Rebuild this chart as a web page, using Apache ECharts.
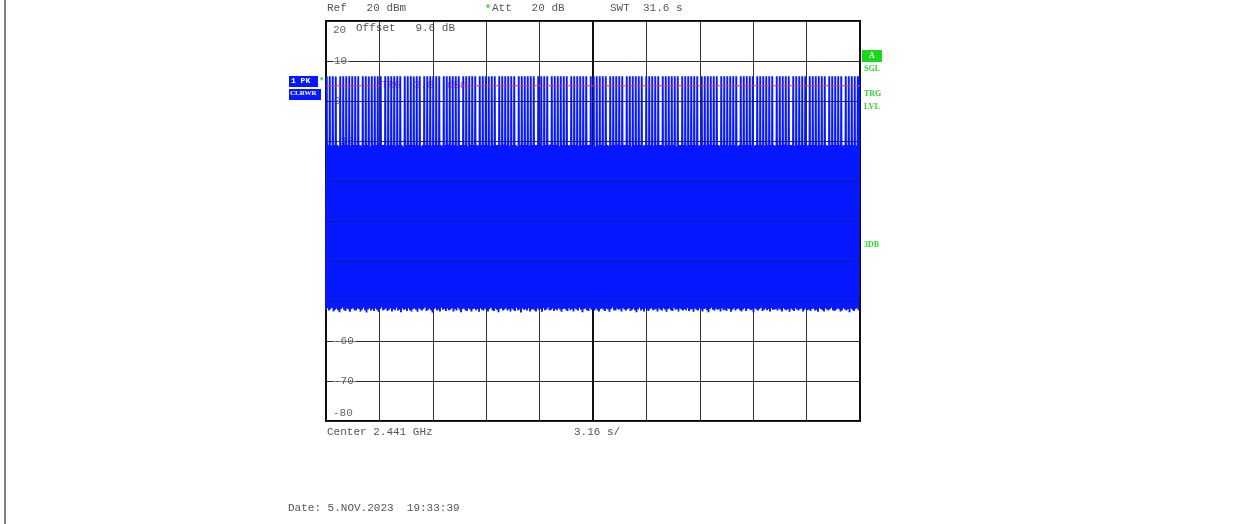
<!DOCTYPE html>
<html>
<head>
<meta charset="utf-8">
<script src="https://cdn.jsdelivr.net/npm/echarts@6/dist/echarts.min.js"></script>
<style>
  html, body { margin: 0; padding: 0; background: #fff; }
  #chart { width: 1253px; height: 524px; }
</style>
</head>
<body>
<div id="chart"></div>
<script>
// zero-span trace: sweep 31.6 s, 3.16 s/div
const sweepTime = 31.6;
const timeDiv = 3.16;
const yTicks = [20, 10, 0, -10, -20, -30, -40, -50, -60, -70, -80];
const triggerLevel = 3.8;

// burst tops (dBm), one per slot, left to right
const topLevels = [
  6.2,-11,6.2,-11.2,6.2,-11,6.1,-11,-11.3,6.2,-11,6.2,-10.9,6.2,-11,6.2,-11.1,6.2,-11,6.2,
  -11,6.2,-11,-11.2,6.2,-11,6.2,-11,6.1,-11.3,6.2,-11,6.2,-11,6.2,-10.8,6.2,-11,-11,6.2,
  -11.1,6.2,-11,6.2,-11,6.2,-11.2,6.2,-11,6.2,-11,-11.4,6.2,-11,6.2,-11,6.2,-11,6.1,-11,
  6.2,-11,6.2,-11.3,-11,6.2,-11,6.2,-11,6.2,-11.1,6.2,-11,6.2,-11,6.2,-11,-11.2,6.2,-11,
  6.2,-10.9,6.2,-11,6.2,-11,6.2,-11.2,6.2,-11,-11,6.2,-11,6.2,-11.3,6.2,-11,6.2,-11,6.2,
  -11,-11.1,6.2,-11,6.2,-11,6.2,-11,6.1,-11.2,6.2,-11,6.2,-11,-11,6.2,-11,6.2,-10.9,6.2,
  -11,6.2,-11.2,6.2,-11,6.2,-11,-11.3,6.2,-11,6.2,-11,6.2,-11,6.2,-11.1,6.2,-11,6.2,-11,
  -11,6.2,-11,6.2,-11.2,6.2,-11,6.2,-11,-10.9,6.2,-11,6.2,-11,6.2,-11.3,6.2,-11,6.2,-11,
  6.2,-11,-11.1,6.2,-11,6.2,-11,6.2,-11.2,6.2,-11,6.2,-11,6.2,-11,-11,6.2,-11,6.2,-11.4,
  6.2,-11,6.2,-11,6.2,-11.1,6.2,-11,-11.2,6.2,-11,6.2,-11,6.2,-10.9,6.2,-11,6.2,-11,-11,
  6.2,-11,6.2,-11.3,6.2,-11,6.2,-11,6.2,-11,6.2,-11.2,-11,6.2,-11,6.2,-11,6.2,-11.1,6.2,
  -11,6.2,-11,-11,6.2,-11.2,6.2,-11,6.2,-11,6.2,-11,6.2,-11.3,6.2,-11,-11,6.2,-11,6.2,
  -11.1,6.2,-11,6.2,-11,6.2,-11,6.2,-11.2,-11,6.2,-11,6.2,-11,6.2,-10.9,6.2,-11,6.2,-11,
  6.2,-11,-11.2,6.2,-11,6.2,-11,6.2,-11.1,6.2,-11,6.2,-11,6.2,-11.3,-11,6.2,-11,6.2,-11,
  6.2,-11,6.2,-11,6.2,-11.2,-11,6.2,-11,6.2,-11,6.2,-11.1,6.2,-11,6.2,-11,6.2,-11,-11.2,
  6.2,-11,6.2,-11,6.2,-10.9,6.2,-11,6.2,-11,-11,6.2,-11.2,6.2,-11,6.2,-11,6.2,-11,6.2,
  -11.3,-11,6.2,-11,6.2,-11,6.2,-11.1,6.2,-11,6.2,-11,6.2,-11,-11.2,6.2,-11,6.2,-11,6.2,
  -11,6.2,-11,6.2,-11.2,-11,6.2,-11,6.2,-11,6.2,-11,6.2,-11.1,6.2,6.2
];

// noise floor between bursts (dBm), one per slot
const floorLevels = [
  -52.1,-51.8,-52.4,-52,-51.7,-52.6,-52.2,-51.9,-52.3,-52.8,-52,-51.6,-52.2,-52.5,-51.9,-52.1,-52.7,-52,-51.8,-52.3,
  -52.4,-51.9,-52,-52.6,-52.2,-51.7,-52.3,-52.9,-52.1,-51.8,-52.4,-52,-52.5,-51.9,-52.2,-52.7,-52,-51.6,-52.3,-52.1,
  -51.9,-52.5,-52.2,-51.8,-52.6,-52,-52.3,-51.7,-52.4,-52.1,-52.8,-51.9,-52.2,-52,-52.5,-51.8,-52.3,-52.6,-52,-51.9,
  -52.2,-52.7,-51.8,-52.1,-52.4,-52,-51.6,-52.5,-52.2,-51.9,-52.3,-52.9,-52,-51.8,-52.4,-52.1,-52.6,-51.7,-52.2,-52,
  -52.5,-51.9,-52.3,-52.1,-51.8,-52.6,-52,-52.4,-51.7,-52.2,-52.8,-52,-51.9,-52.3,-52.5,-51.8,-52.1,-52.6,-52,-51.9,
  -52.3,-52,-52.7,-51.8,-52.2,-52.4,-51.9,-52.1,-52.6,-52,-51.7,-52.3,-52.5,-51.9,-52.2,-52.8,-52,-51.8,-52.4,-52.1,
  -51.8,-52.4,-52,-52.6,-51.9,-52.2,-52.5,-51.7,-52.3,-52.1,-52.9,-51.9,-52.2,-52,-52.4,-51.8,-52.6,-52.1,-52,-52.3,
  -52.6,-51.9,-52.2,-52,-52.7,-51.8,-52.3,-52.1,-51.6,-52.4,-52.2,-51.9,-52.5,-52,-52.3,-51.8,-52.1,-52.7,-52,-51.9,
  -52.2,-52.5,-51.8,-52.3,-52,-52.6,-51.9,-52.1,-52.4,-51.7,-52.2,-52.8,-52,-51.9,-52.3,-52.5,-51.8,-52.2,-52,-52.4,
  -51.9,-52.3,-52.6,-52,-51.8,-52.2,-52.5,-51.9,-52.1,-52.7,-52,-51.6,-52.3,-52.4,-51.9,-52.2,-52,-52.6,-51.8,-52.1,
  -52.4,-52,-51.8,-52.5,-52.2,-51.9,-52.3,-52.8,-52.1,-51.7,-52.4,-52,-52.6,-51.9,-52.2,-52.5,-52,-51.8,-52.3,-52.1,
  -52,-52.6,-51.9,-52.2,-52.4,-51.8,-52.1,-52.7,-52,-51.9,-52.3,-52.5,-51.7,-52.2,-52,-52.6,-51.9,-52.1,-52.4,-52,
  -52.3,-51.8,-52.5,-52.1,-52,-52.7,-51.9,-52.2,-52.4,-51.8,-52.1,-52.6,-52,-51.9,-52.3,-52.8,-52,-51.7,-52.2,-52.4,
  -51.9,-52.2,-52,-52.6,-51.8,-52.3,-52.1,-52.5,-51.9,-52,-52.7,-52.2,-51.8,-52.4,-52,-51.9,-52.3,-52.6,-52.1,-51.8,
  -52.5,-52,-51.9,-52.3,-52.2,-52.8,-51.8,-52.1,-52.4,-52,-51.7,-52.5,-52.2,-51.9,-52.3,-52,-52.6,-51.8,-52.2,-52.1,
  -52,-52.4,-51.9,-52.2,-52.6,-51.8,-52.1,-52.3,-52,-52.7,-51.9,-52.2,-52.5,-51.8,-52.1,-52.4,-52,-51.9,-52.6,-52.2,
  -51.8,-52.3,-52.1,-52.5,-52,-51.9,-52.4,-52.2,-52.7,-51.8,-52,-52.3,-52.6,-51.9,-52.1,-52.4,-52,-51.7,-52.3,-52.5,
  -52.2,-51.9,-52,-52.6,-52.3,-51.8,-52.1,-52.4,-52,-52.8,-51.9,-52.2,-52.5,-52,-51.8,-52.3
];

const slotStep = sweepTime / topLevels.length;
const trace = [];
topLevels.forEach((top, i) => {
  trace.push([i * slotStep, floorLevels[i]]);
  trace.push([(i + 0.5) * slotStep, top]);
});

// trigger line has a gap where its label sits
const trgGapStart = 3.2, trgGapEnd = 7.95;
const trgLine = [[0, triggerLevel], [trgGapStart, triggerLevel], '-', [trgGapEnd, triggerLevel], [sweepTime, triggerLevel]];

const mono = 'Liberation Mono';
const txtColor = '#555';
const green = '#2fd62f';
const blue = '#0618ff';

const chart = echarts.init(document.getElementById('chart'), null, { renderer: 'canvas' });

function txt(left, top, text, extra) {
  return {
    type: 'text', left, top,
    style: Object.assign({ text, fill: txtColor, font: '11px "' + mono + '"' }, extra || {})
  };
}

function tag(left, top, text, size) {
  return { type: 'text', left, top, z: 10, style: { text, fill: green, font: 'bold ' + (size || 8) + 'px "Liberation Serif"' } };
}

chart.setOption({
  animation: false,
  backgroundColor: '#fff',
  grid: {
    left: 326, top: 21, width: 534, height: 400,
    show: true, borderColor: '#000', borderWidth: 2, backgroundColor: '#fff'
  },
  xAxis: [
    {
      type: 'value', min: 0, max: sweepTime, interval: timeDiv,
      axisLine: { show: false }, axisTick: { show: false }, axisLabel: { show: false },
      splitLine: { show: true, lineStyle: { color: '#333', width: 1 } }
    },
    {
      type: 'value', min: 0, max: sweepTime, interval: sweepTime / 2,
      axisLine: { show: false }, axisTick: { show: false }, axisLabel: { show: false },
      splitLine: { show: true, lineStyle: { color: '#111', width: 2 } }
    }
  ],
  yAxis: [
    {
      type: 'value', min: -80, max: 20, interval: 10,
      axisLine: { show: false }, axisTick: { show: false },
      splitLine: { show: true, lineStyle: { color: '#333', width: 1 } },
      axisLabel: {
        inside: true, margin: 7, color: '#666', fontFamily: mono, fontSize: 11,
        formatter: v => {
          if (v === yTicks[0]) return '{t|' + v + '}';
          if (v === yTicks[yTicks.length - 1]) return '{b|' + v + '}';
          return '{n|' + v + '}';
        },
        rich: {
          n: { backgroundColor: '#fff', padding: [0, 2, 0, 1], fontFamily: mono, fontSize: 11, color: '#666' },
          t: { padding: [19, 0, 0, 0], fontFamily: mono, fontSize: 11, color: '#666' },
          b: { padding: [0, 0, 15, 0], fontFamily: mono, fontSize: 11, color: '#666' }
        }
      }
    },
    {
      // horizontal graticule sits on top of the trace
      type: 'value', min: -80, max: 20, interval: 10, z: 3,
      axisLine: { show: false }, axisTick: { show: false }, axisLabel: { show: false },
      splitLine: { show: true, lineStyle: { color: '#1a1a40', width: 1, opacity: 0.5 } }
    }
  ],
  series: [
    {
      name: '1 PK', type: 'line', data: trace, xAxisIndex: 0, yAxisIndex: 0, z: 2,
      showSymbol: false, symbol: 'none', sampling: null, large: false,
      lineStyle: { color: blue, width: 1.9, join: 'bevel' }
    },
    {
      name: 'TRG', type: 'line', data: trgLine, z: 4, symbol: 'none',
      connectNulls: false,
      lineStyle: { color: '#e43a3a', width: 1 }
    }
  ],
  graphic: [
    { type: 'line', shape: { x1: 5, y1: 0, x2: 5, y2: 524 }, style: { stroke: '#000', lineWidth: 1 } },
    txt(327, 3, 'Ref   20 dBm'),
    txt(485, 4, '*', { fill: green, font: 'bold 10px "' + mono + '"' }),
    txt(492, 3, 'Att   20 dB'),
    txt(610, 3, 'SWT  31.6 s'),
    txt(356, 23, 'Offset   9.6 dB'),
    txt(381, 80, 'TRG  3.8  dBm', { fill: '#e43a3a', opacity: 0.8 }),
    txt(327, 427, 'Center 2.441 GHz'),
    txt(574, 427, '3.16 s/'),
    txt(288, 503, 'Date: 5.NOV.2023  19:33:39'),
    { type: 'rect', shape: { x: 289, y: 76, width: 29, height: 11 }, style: { fill: blue } },
    { type: 'text', left: 291, top: 77, z: 10, style: { text: '1 PK', fill: '#fff', font: 'bold 8px "Liberation Mono"' } },
    { type: 'text', left: 319, top: 77, z: 10, style: { text: '*', fill: green, font: 'bold 9px "' + mono + '"' } },
    { type: 'rect', shape: { x: 289, y: 89, width: 32, height: 11 }, style: { fill: blue } },
    { type: 'text', left: 290, top: 90, z: 10, style: { text: 'CLRWR', fill: '#fff', font: 'bold 7px "Liberation Serif"' } },
    { type: 'rect', shape: { x: 862, y: 50, width: 20, height: 12 }, style: { fill: '#1ad81a' } },
    { type: 'text', left: 869, top: 52, z: 10, style: { text: 'A', fill: '#fff', font: 'bold 8px "Liberation Serif"' } },
    tag(864, 65, 'SGL'),
    tag(864, 90, 'TRG'),
    tag(864, 103, 'LVL'),
    tag(864, 241, '3DB')
  ]
});
</script>
</body>
</html>
